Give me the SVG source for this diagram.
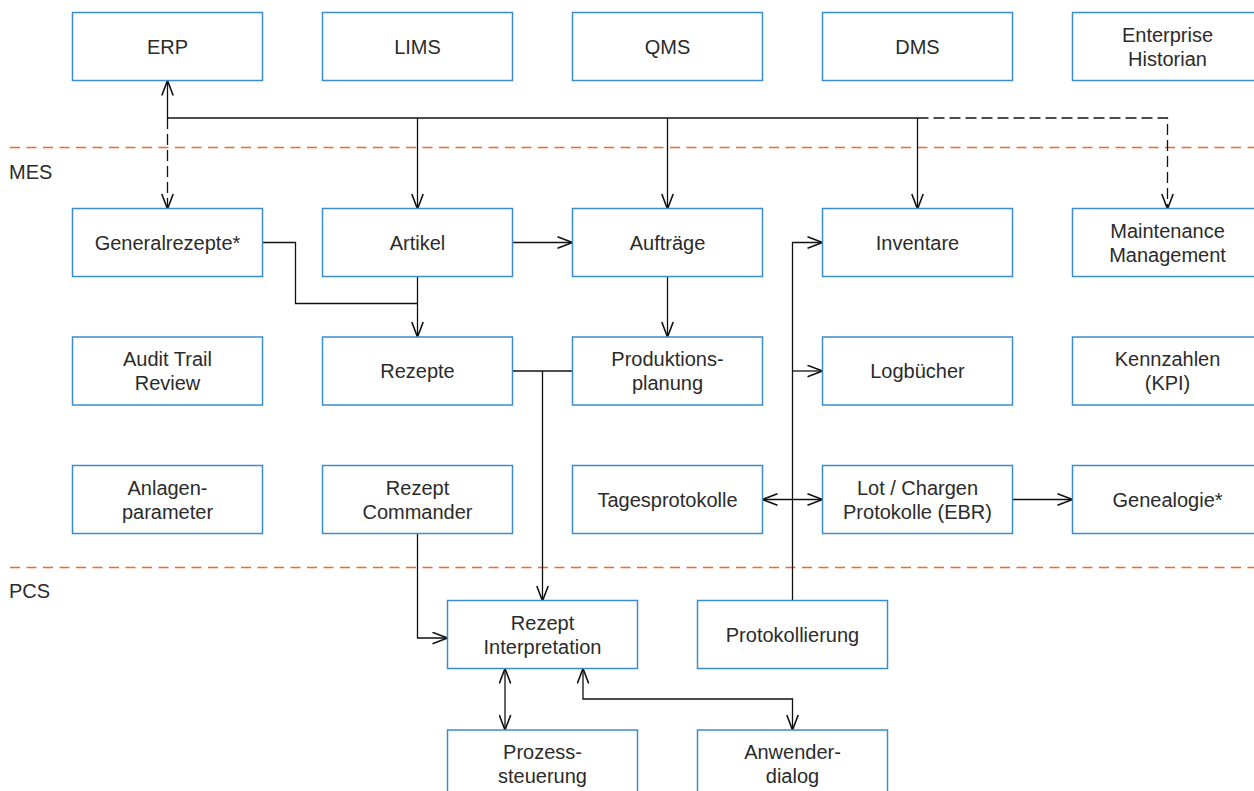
<svg xmlns="http://www.w3.org/2000/svg" width="1254" height="791" viewBox="0 0 1254 791">
<style>
.box{fill:#fff;stroke:#3a8ccf;stroke-width:1.5}
.t{font-family:"Liberation Sans",Arial,sans-serif;font-size:20px;fill:#2b2b2b;text-anchor:middle}
.lbl{font-family:"Liberation Sans",Arial,sans-serif;font-size:20px;fill:#2b2b2b}
.sep{stroke:#f46a22;stroke-width:1.6;stroke-dasharray:10,6.5;fill:none}
.c{fill:none;stroke:#111;stroke-width:1.3}
.d{stroke-dasharray:11,5}
.a{marker-end:url(#arr)}
.b{marker-start:url(#arr);marker-end:url(#arr)}
.s{marker-start:url(#arr)}
</style>
<defs>
<marker id="arr" markerUnits="userSpaceOnUse" markerWidth="17" markerHeight="13" viewBox="0 0 17 13" refX="16" refY="6.5" orient="auto-start-reverse">
<path d="M1,0.8 L16,6.5 L1,12.2" fill="none" stroke="#111" stroke-width="1.6" stroke-dasharray="none"/>
</marker>
</defs>
<rect width="1254" height="791" fill="#fff"/>
<line class="sep" x1="10" y1="147.5" x2="1254" y2="147.5"/>
<line class="sep" x1="10" y1="567.5" x2="1254" y2="567.5"/>
<text class="lbl" x="9" y="179">MES</text>
<text class="lbl" x="9" y="598">PCS</text>

<g id="connectors">
<path class="c s" d="M167.5,80.5 V118"/>
<path class="c d a" d="M167.5,118 V209"/>
<path class="c" d="M167.5,118 H917.5"/>
<path class="c d a" d="M917.5,118 H1167.5 V209"/>
<path class="c a" d="M417.5,118 V209"/>
<path class="c a" d="M667.5,118 V209"/>
<path class="c a" d="M917.5,118 V209"/>
<path class="c" d="M262.5,242.5 H295.5 V303.5 H417.5"/>
<path class="c a" d="M417.5,276.5 V337"/>
<path class="c a" d="M512.5,242.5 H572.5"/>
<path class="c a" d="M667.5,276.5 V337"/>
<path class="c" d="M512.5,371 H572.5"/>
<path class="c a" d="M542.5,371 V601"/>
<path class="c a" d="M417.5,533.5 V638 H447.5"/>
<path class="c a" d="M792.5,601 V242.5 H822.5"/>
<path class="c a" d="M792.5,371 H822.5"/>
<path class="c b" d="M762.5,499.5 H822.5"/>
<path class="c a" d="M1012.5,499.5 H1072.5"/>
<path class="c b" d="M505,668.5 V730"/>
<path class="c b" d="M583,668.5 V699 H792.5 V730"/>
</g>

<g id="erp"><rect class="box" x="72.5" y="12.5" width="190" height="68"/><text class="t" x="167.5" y="53.5">ERP</text></g>
<g id="lims"><rect class="box" x="322.5" y="12.5" width="190" height="68"/><text class="t" x="417.5" y="53.5">LIMS</text></g>
<g id="qms"><rect class="box" x="572.5" y="12.5" width="190" height="68"/><text class="t" x="667.5" y="53.5">QMS</text></g>
<g id="dms"><rect class="box" x="822.5" y="12.5" width="190" height="68"/><text class="t" x="917.5" y="53.5">DMS</text></g>
<g id="historian"><rect class="box" x="1072.5" y="12.5" width="190" height="68"/><text class="t" x="1167.5" y="41.5">Enterprise</text><text class="t" x="1167.5" y="65.5">Historian</text></g>

<g id="generalrezepte"><rect class="box" x="72.5" y="208.5" width="190" height="68"/><text class="t" x="167.5" y="249.5">Generalrezepte*</text></g>
<g id="artikel"><rect class="box" x="322.5" y="208.5" width="190" height="68"/><text class="t" x="417.5" y="249.5">Artikel</text></g>
<g id="auftraege"><rect class="box" x="572.5" y="208.5" width="190" height="68"/><text class="t" x="667.5" y="249.5">Aufträge</text></g>
<g id="inventare"><rect class="box" x="822.5" y="208.5" width="190" height="68"/><text class="t" x="917.5" y="249.5">Inventare</text></g>
<g id="maintenance"><rect class="box" x="1072.5" y="208.5" width="190" height="68"/><text class="t" x="1167.5" y="237.5">Maintenance</text><text class="t" x="1167.5" y="261.5">Management</text></g>

<g id="audit"><rect class="box" x="72.5" y="337" width="190" height="68"/><text class="t" x="167.5" y="366">Audit Trail</text><text class="t" x="167.5" y="390">Review</text></g>
<g id="rezepte"><rect class="box" x="322.5" y="337" width="190" height="68"/><text class="t" x="417.5" y="378">Rezepte</text></g>
<g id="produktionsplanung"><rect class="box" x="572.5" y="337" width="190" height="68"/><text class="t" x="667.5" y="366">Produktions-</text><text class="t" x="667.5" y="390">planung</text></g>
<g id="logbuecher"><rect class="box" x="822.5" y="337" width="190" height="68"/><text class="t" x="917.5" y="378">Logbücher</text></g>
<g id="kennzahlen"><rect class="box" x="1072.5" y="337" width="190" height="68"/><text class="t" x="1167.5" y="366">Kennzahlen</text><text class="t" x="1167.5" y="390">(KPI)</text></g>

<g id="anlagenparameter"><rect class="box" x="72.5" y="465.5" width="190" height="68"/><text class="t" x="167.5" y="494.5">Anlagen-</text><text class="t" x="167.5" y="518.5">parameter</text></g>
<g id="rezeptcommander"><rect class="box" x="322.5" y="465.5" width="190" height="68"/><text class="t" x="417.5" y="494.5">Rezept</text><text class="t" x="417.5" y="518.5">Commander</text></g>
<g id="tagesprotokolle"><rect class="box" x="572.5" y="465.5" width="190" height="68"/><text class="t" x="667.5" y="506.5">Tagesprotokolle</text></g>
<g id="lotchargen"><rect class="box" x="822.5" y="465.5" width="190" height="68"/><text class="t" x="917.5" y="494.5">Lot / Chargen</text><text class="t" x="917.5" y="518.5">Protokolle (EBR)</text></g>
<g id="genealogie"><rect class="box" x="1072.5" y="465.5" width="190" height="68"/><text class="t" x="1167.5" y="506.5">Genealogie*</text></g>

<g id="rezeptinterpretation"><rect class="box" x="447.5" y="600.5" width="190" height="68"/><text class="t" x="542.5" y="629.5">Rezept</text><text class="t" x="542.5" y="653.5">Interpretation</text></g>
<g id="protokollierung"><rect class="box" x="697.5" y="600.5" width="190" height="68"/><text class="t" x="792.5" y="641.5">Protokollierung</text></g>
<g id="prozesssteuerung"><rect class="box" x="447.5" y="730" width="190" height="68"/><text class="t" x="542.5" y="758.5">Prozess-</text><text class="t" x="542.5" y="782.5">steuerung</text></g>
<g id="anwenderdialog"><rect class="box" x="697.5" y="730" width="190" height="68"/><text class="t" x="792.5" y="758.5">Anwender-</text><text class="t" x="792.5" y="782.5">dialog</text></g>
</svg>
